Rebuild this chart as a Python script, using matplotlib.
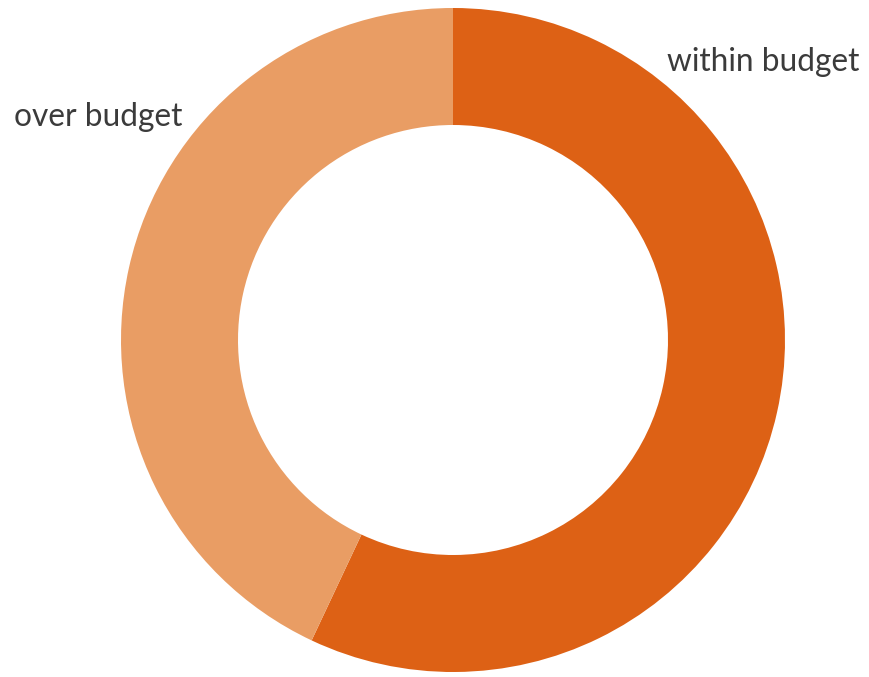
import matplotlib.pyplot as plt

labels = ["within budget", "over budget"]
shares = [57, 43]
colors = ["#DD6115", "#E99D64"]

W, H = 869, 677
fig = plt.figure(figsize=(W / 100, H / 100), dpi=100)
ax = fig.add_axes([0, 0, 1, 1])
ax.axis("off")

# donut: outer radius and ring thickness in pixel units
cx, cy = 453, H - 340
r_out = 332
ring = 117
ax.pie(shares, colors=colors, startangle=90, counterclock=False,
       center=(cx, cy), radius=r_out,
       wedgeprops=dict(width=ring, linewidth=0))
ax.set_xlim(0, W)
ax.set_ylim(0, H)
ax.set_aspect("auto")

txt = dict(fontfamily="Lato", fontsize=22.8, color="#3b3b3b", va="center")
ax.text(667, H - 62, labels[0], ha="left", **txt)
ax.text(14, H - 117, labels[1], ha="left", **txt)

fig.savefig("out.png", dpi=100)
